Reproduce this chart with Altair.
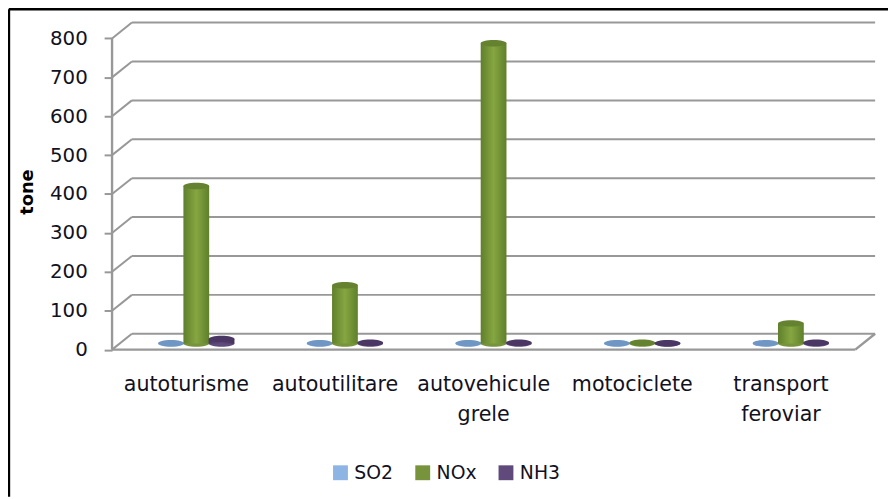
import altair as alt
import pandas as pd

CATEGORIES = ["autoturisme", "autoutilitare", "autovehicule\ngrele", "motociclete", "transport\nferoviar"]
SO2 = [1, 1, 1, 1, 1]
NOX = [405, 150, 772, 2, 52]
NH3 = [12, 2, 2, 1, 2]
TICKS = [0, 100, 200, 300, 400, 500, 600, 700, 800]
SERIES = ["SO2", "NOx", "NH3"]
COLORS = ["#8EB4E3", "#77933C", "#604A7B"]

FONT = "DejaVu Sans"
GRID = "#989898"
# plot-space layout
W, H = 884, 487
U = 150.0          # px per category
V = 0.3925         # px per tone
X0, Y0 = 101, 338.5  # pixel position of (0, 0) inside the plot
DX, DY = 20 / U, 16 / V   # depth of the 3D box
BASE = 15.5               # floor centre line
HALF = 13 / U
STEP = 25.5 / U
SHIFT = 10 / U

XS = alt.Scale(domain=[-X0 / U, (W - X0) / U], nice=False, zero=False)
YS = alt.Scale(domain=[-(H - Y0) / V, Y0 / V], nice=False, zero=False)


def X(field):
    return alt.X(field, scale=XS, axis=None)


def Y(field):
    return alt.Y(field, scale=YS)


y_axis = alt.Axis(values=TICKS, title="tone", grid=False, domain=False,
                  offset=-X0, tickSize=8, tickWidth=2, tickColor=GRID,
                  labelFont=FONT, labelFontSize=20, labelColor="#111122", labelPadding=17,
                  titleFont=FONT, titleFontSize=18, titleFontWeight="bold", titleColor="#000000",
                  titleX=-76, titleY=179, titleAngle=270)

# box lines
grid = pd.DataFrame({"v": TICKS})
grid["x"], grid["x2"], grid["y"], grid["y2"] = 0.0, DX, grid.v, grid.v + DY
oblique = alt.Chart(grid).mark_rule(color=GRID, strokeWidth=2).encode(x=X("x:Q"), x2="x2:Q", y=Y("y:Q"), y2="y2:Q")
back = pd.DataFrame({"x": DX, "x2": 5 + DX, "y": grid.v + DY})
backlines = alt.Chart(back).mark_rule(color=GRID, strokeWidth=2).encode(x=X("x:Q"), x2="x2:Q", y=Y("y:Q"))
wall = pd.DataFrame({"x": [0.0, 0.0, 5.0], "x2": [0.0, 5.0, 5 + DX], "y": [0, 0, 0], "y2": [800, 0, DY]})
walls = alt.Chart(wall).mark_rule(color=GRID, strokeWidth=2.4).encode(x=X("x:Q"), x2="x2:Q", y=Y("y:Q"), y2="y2:Q")

# cylinders
rows = []
for si, (name, vals) in enumerate(zip(SERIES, [SO2, NOX, NH3])):
    for ci, v in enumerate(vals):
        cx = ci + 0.5 + SHIFT + (si - 1) * STEP
        rows.append({"series": name, "cx": cx, "x": cx - HALF, "x2": cx + HALF,
                     "y": BASE, "y2": BASE + v, "value": v})
df = pd.DataFrame(rows)

ELLIPSE = "M-1,0A1,0.25,0,1,1,1,0A1,0.25,0,1,1,-1,0Z"
SIZE = 26 ** 2
color = alt.Color("series:N", scale=alt.Scale(domain=SERIES, range=COLORS),
                  legend=alt.Legend(title=None, orient="none", legendX=322, legendY=453, direction="horizontal",
                                    columns=3, symbolType="square", symbolSize=225, symbolStrokeWidth=0,
                                    labelFont=FONT, labelFontSize=19, labelColor="#111122",
                                    labelOffset=4.5, columnPadding=20))
SHADES = {"SO2": ("#6f93bf", "#8EB4E3", "#6f93bf"),
          "NOx": ("#5f7f2b", "#86a642", "#5f7f2b"),
          "NH3": ("#4a3763", "#604A7B", "#43305a")}
TOPS = {"SO2": "#7097c4", "NOx": "#64822f", "NH3": "#4a3763"}

layers = [oblique, backlines, walls]
for name in SERIES:
    sub = df[df.series == name]
    e, m, d = SHADES[name]
    base = alt.Chart(sub).mark_point(shape=ELLIPSE, size=SIZE, filled=True, opacity=1).encode(
        x=X("cx:Q"), y=Y("y:Q"), color=color)
    grad = alt.Gradient(gradient="linear", x1=0, x2=1, y1=0, y2=0,
                        stops=[alt.GradientStop(offset=0, color=e), alt.GradientStop(offset=0.5, color=m),
                               alt.GradientStop(offset=1, color=d)])
    tall = sub[sub.value > 5]
    body = alt.Chart(tall).mark_rect(fill=grad).encode(x=X("x:Q"), x2="x2:Q", y=Y("y:Q"), y2="y2:Q")
    top = alt.Chart(sub).mark_point(shape=ELLIPSE, size=SIZE, filled=True, opacity=1, color=TOPS[name]).encode(
        x=X("cx:Q"), y=Y("y2:Q"))
    layers += [base, body, top]

labels = pd.DataFrame({"label": CATEGORIES, "x": [i + 0.5 for i in range(5)], "y": -66.0})
text = alt.Chart(labels).mark_text(font=FONT, fontSize=20.8, lineBreak="\n", lineHeight=30, baseline="top",
                                   align="center", color="#111122").encode(
    x=X("x:Q"), y=Y("y:Q"), text="label:N")

frame = alt.Chart(pd.DataFrame({"s": [0]})).mark_rule(color="#000000", strokeWidth=2.8).encode(
    x=alt.value(-3.2), x2=alt.value(W), y=alt.value(-5), y2=alt.value(-5))
frame_left = alt.Chart(pd.DataFrame({"s": [0]})).mark_rule(color="#000000", strokeWidth=2.8).encode(
    x=alt.value(-3.2), x2=alt.value(-3.2), y=alt.value(-5), y2=alt.value(H))

axis_layer = alt.Chart(grid).mark_rule(opacity=0).encode(
    x=alt.value(X0), y=alt.Y("v:Q", scale=YS, axis=y_axis))

chart = alt.layer(axis_layer, *layers, text, frame, frame_left).properties(
    width=W, height=H, padding={"left": 4, "top": 4, "right": 0, "bottom": 0},
    autosize=alt.AutoSizeParams(type="none"), background="#ffffff"
).configure_view(stroke=None)

chart.save("out.html", embed_options={"renderer": "svg", "actions": False})
